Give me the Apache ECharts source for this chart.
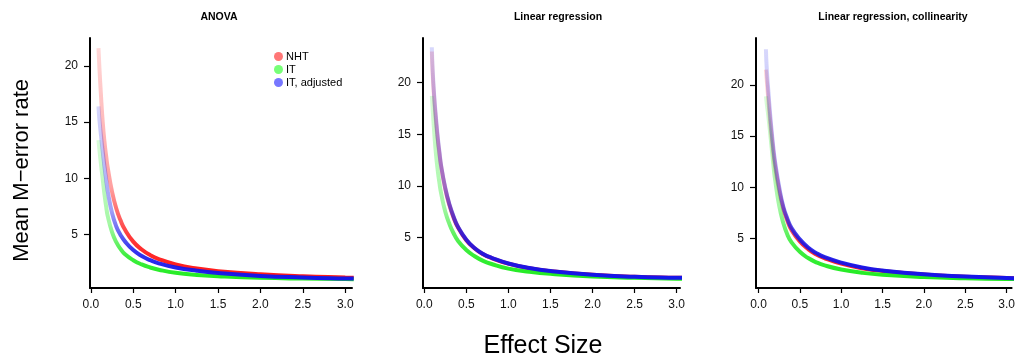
<!DOCTYPE html>
<html>
<head>
<meta charset="utf-8">
<script src="https://cdn.jsdelivr.net/npm/echarts@6/dist/echarts.min.js"></script>
<style>
  html, body { margin: 0; padding: 0; background: #fff; }
  #chart { width: 1018px; height: 362px; }
</style>
</head>
<body>
<div id="chart"></div>
<script>
const EFFECT = [0.09, 0.1, 0.12, 0.14, 0.16, 0.18, 0.2, 0.25, 0.3, 0.35, 0.4, 0.5, 0.6, 0.7, 0.8, 1.0, 1.25, 1.5, 2.0, 2.5, 3.0, 3.1];

// ANOVA
const ANOVA_NHT = [21.6, 20.0, 17.3, 15.0, 13.3, 12.0, 10.9, 8.8, 7.3, 6.25, 5.45, 4.35, 3.65, 3.15, 2.8, 2.32, 1.95, 1.72, 1.44, 1.26, 1.15, 1.13];
const ANOVA_IT = [13.4, 12.6, 11.2, 9.9, 8.6, 7.5, 6.6, 5.2, 4.3, 3.7, 3.25, 2.7, 2.32, 2.05, 1.85, 1.57, 1.38, 1.27, 1.13, 1.06, 1.02, 1.01];
const ANOVA_ITADJ = [16.4, 15.3, 13.8, 12.4, 11.1, 9.9, 8.8, 6.9, 5.7, 4.95, 4.4, 3.6, 3.07, 2.7, 2.42, 2.05, 1.76, 1.56, 1.3, 1.16, 1.07, 1.06];

// Linear regression
const LR_NHT = [23.0, 20.8, 18.2, 16.2, 14.5, 13.1, 11.9, 9.7, 8.1, 6.9, 6.0, 4.75, 3.95, 3.4, 3.02, 2.48, 2.04, 1.76, 1.4, 1.21, 1.12, 1.11];
const LR_IT = [18.7, 17.4, 15.0, 13.0, 11.5, 10.3, 9.3, 7.5, 6.3, 5.4, 4.7, 3.8, 3.2, 2.75, 2.45, 2.0, 1.7, 1.5, 1.25, 1.12, 1.03, 1.02];
const LR_ITADJ = [23.4, 21.2, 18.5, 16.5, 14.7, 13.3, 12.0, 9.8, 8.2, 7.0, 6.05, 4.8, 3.98, 3.42, 3.05, 2.5, 2.06, 1.77, 1.41, 1.22, 1.13, 1.12];

// Linear regression, collinearity
const COL_NHT = [21.5, 20.5, 18.5, 16.6, 14.9, 13.4, 12.1, 9.7, 7.9, 6.7, 5.8, 4.7, 3.95, 3.42, 3.05, 2.52, 2.08, 1.8, 1.45, 1.25, 1.11, 1.09];
const COL_IT = [18.9, 18.2, 16.9, 15.4, 13.8, 12.2, 10.8, 8.2, 6.5, 5.35, 4.6, 3.68, 3.07, 2.65, 2.35, 1.95, 1.63, 1.43, 1.22, 1.1, 1.02, 1.01];
const COL_ITADJ = [23.5, 21.6, 19.3, 17.2, 15.4, 13.8, 12.5, 10.0, 8.1, 6.9, 6.0, 4.9, 4.1, 3.55, 3.15, 2.62, 2.15, 1.85, 1.48, 1.27, 1.12, 1.1];

const X_TICKS = [0, 0.5, 1.0, 1.5, 2.0, 2.5, 3.0];
const Y_TICKS = [5, 10, 15, 20];
const PANEL_TITLES = ['ANOVA', 'Linear regression', 'Linear regression, collinearity'];
const SERIES_NAMES = ['NHT', 'IT', 'IT, adjusted'];

const panels = [
    { data: [ANOVA_NHT, ANOVA_IT, ANOVA_ITADJ], left: 90, width: 262, x: [-0.01, 3.08], y: [0.22, 22.5], titleX: 214 },
    { data: [LR_NHT, LR_IT, LR_ITADJ], left: 423, width: 257, x: [-0.015, 3.04], y: [0.13, 24.3], titleX: 553 },
    { data: [COL_NHT, COL_IT, COL_ITADJ], left: 756, width: 262, x: [-0.03, 3.06], y: [0.14, 24.6], titleX: 888 },
];

const rgb = ['255,20,20', '30,235,30', '20,20,235'];
const legendColors = ['#ff7777', '#77ff77', '#7777ff'];

// top of each curve is sparse and pale, the bottom is a dense saturated band
const fade = (c) => new echarts.graphic.LinearGradient(0, 0, 0, 1, [
    { offset: 0, color: `rgba(${c},0.16)` },
    { offset: 0.6, color: `rgba(${c},0.4)` },
    { offset: 0.82, color: `rgba(${c},0.85)` },
    { offset: 1, color: `rgba(${c},1)` },
]);

const font = 'Liberation Sans, Arial, sans-serif';

const option = {
    animation: false,
    textStyle: { fontFamily: font },
    title: panels.map((p, i) => ({
        text: PANEL_TITLES[i],
        left: p.titleX,
        top: 7,
        textAlign: 'center',
        textStyle: { fontSize: 10.5, fontWeight: 'bold', color: '#000', fontFamily: font },
    })),
    legend: {
        orient: 'vertical',
        left: 269,
        top: 46,
        itemWidth: 9,
        itemHeight: 9,
        itemGap: 2,
        icon: 'circle',
        textStyle: { fontSize: 11, color: '#000', fontFamily: font, padding: [0, 0, 0, -2] },
        data: SERIES_NAMES.map((n, i) => ({ name: n, itemStyle: { color: legendColors[i] } })),
    },
    grid: panels.map((p) => ({ left: p.left, top: 38, width: p.width, height: 250 })),
    xAxis: panels.map((p, i) => ({
        type: 'value',
        gridIndex: i,
        min: p.x[0],
        max: p.x[1],
        splitLine: { show: false },
        axisLine: { show: true, onZero: false, lineStyle: { color: '#000', width: 2 } },
        axisTick: { show: true, length: 5, customValues: X_TICKS, lineStyle: { color: '#000', width: 1.2 } },
        axisLabel: {
            customValues: X_TICKS,
            margin: 11,
            fontSize: 12,
            color: '#111',
            formatter: (v) => v.toFixed(1),
        },
    })),
    yAxis: panels.map((p, i) => ({
        type: 'value',
        gridIndex: i,
        min: p.y[0],
        max: p.y[1],
        splitLine: { show: false },
        axisLine: { show: true, onZero: false, lineStyle: { color: '#000', width: 2 } },
        axisTick: { show: true, length: 6, customValues: Y_TICKS, lineStyle: { color: '#000', width: 1.2 } },
        axisLabel: { customValues: Y_TICKS, margin: 12, fontSize: 12, color: '#111' },
    })),
    series: [],
    graphic: [
        {
            type: 'text',
            left: 11,
            top: 79,
            rotation: Math.PI / 2,
            style: { text: 'Mean M\u2212error rate', font: '22px ' + font, fill: '#000' },
            originX: 0,
            originY: 0,
        },
        {
            type: 'text',
            x: 543,
            y: 346,
            style: { text: 'Effect Size', font: '25px ' + font, fill: '#000', align: 'center', verticalAlign: 'middle' },
        },
    ],
};

panels.forEach((p, pi) => {
    p.data.forEach((vals, si) => {
        option.series.push({
            name: SERIES_NAMES[si],
            type: 'line',
            xAxisIndex: pi,
            yAxisIndex: pi,
            data: EFFECT.map((x, k) => [x, vals[k]]),
            symbol: 'none',
            smooth: 0.5,
            lineStyle: { width: 4, color: fade(rgb[si]) },
            itemStyle: { color: legendColors[si] },
            z: 2 + si,
        });
    });
});

const chart = echarts.init(document.getElementById('chart'));
chart.setOption(option);
</script>
</body>
</html>
